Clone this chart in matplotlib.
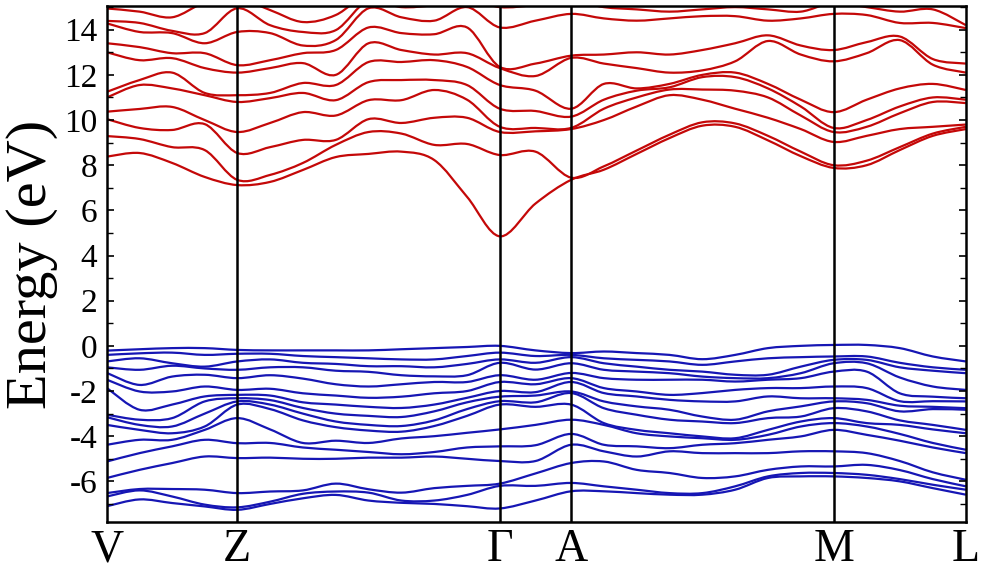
import numpy as np
import matplotlib
matplotlib.use('Agg')
import matplotlib.pyplot as plt
from matplotlib.path import Path
from matplotlib.patches import PathPatch
from matplotlib.ticker import MultipleLocator

plt.rcParams['font.family'] = ['Liberation Serif', 'DejaVu Serif']
plt.rcParams['axes.unicode_minus'] = False

# high symmetry points along the path
k_labels = ['V', 'Z', 'Γ', 'A', 'M', 'L']
k_nodes = [0.0, 1.30, 3.92, 4.63, 7.25, 8.57]
k_steps = [4, 8, 2, 8, 4]   # sample columns per segment

# conduction band energies (eV), one list per sample column, low -> high
cond_cols = [
    [8.38, 9.29, 10.04, 10.37, 11.0, 11.25, 13.0, 13.4, 14.28, 14.39, 14.94, 15.6],
    [8.54, 9.16, 9.65, 10.49, 11.55, 11.77, 12.65, 13.23, 13.9, 14.3, 14.8, 15.6],
    [8.1, 8.8, 9.56, 10.58, 11.4, 12.1, 12.74, 12.96, 13.85, 13.95, 14.55, 15.6],
    [7.48, 8.67, 9.82, 10.0, 11.1, 11.2, 12.3, 12.96, 13.4, 13.85, 15.2, 15.6],
    [7.12, 7.35, 8.54, 9.47, 10.8, 11.1, 12.1, 12.43, 13.9, 14.95, 15.4, 15.7],
    [7.26, 7.57, 8.8, 9.87, 10.97, 11.2, 12.3, 12.65, 13.85, 14.2, 14.87, 15.6],
    [7.79, 8.1, 9.12, 10.35, 11.2, 11.64, 12.52, 12.96, 13.3, 13.9, 14.34, 15.6],
    [8.36, 8.9, 9.12, 10.2, 10.88, 11.55, 12.0, 13.1, 13.54, 13.98, 14.65, 15.6],
    [8.5, 9.47, 10.04, 10.88, 11.68, 12.57, 13.4, 14.1, 14.95, 15.3, 15.6, 15.7],
    [8.6, 9.4, 9.87, 10.88, 11.77, 12.57, 13.1, 13.85, 14.55, 15.0, 15.5, 15.7],
    [8.23, 8.9, 10.1, 11.33, 11.77, 12.65, 12.9, 13.8, 14.4, 15.1, 15.5, 15.7],
    [6.6, 8.94, 10.1, 10.9, 11.55, 12.35, 12.96, 14.1, 15.0, 15.4, 15.6, 15.7],
    [4.85, 8.45, 9.47, 9.7, 10.5, 11.55, 12.3, 12.35, 14.1, 15.0, 15.5, 15.7],
    [6.3, 8.6, 9.5, 9.65, 10.4, 11.3, 11.95, 12.5, 14.4, 15.1, 15.5, 15.7],
    [7.35, 7.45, 9.6, 9.65, 10.15, 10.5, 12.75, 12.85, 14.7, 15.3, 15.5, 15.7],
    [7.8, 7.95, 10.0, 10.5, 10.9, 11.6, 12.5, 12.9, 14.5, 15.0, 15.5, 15.7],
    [8.5, 8.65, 10.6, 11.0, 11.3, 11.4, 12.3, 13.0, 14.4, 14.9, 15.5, 15.7],
    [9.2, 9.35, 11.1, 11.35, 11.45, 11.6, 12.1, 12.9, 14.5, 14.8, 15.5, 15.7],
    [9.75, 9.9, 10.9, 11.35, 11.9, 12.0, 12.2, 13.1, 14.6, 14.9, 15.5, 15.7],
    [9.7, 9.85, 10.5, 11.3, 11.9, 12.1, 12.6, 13.4, 14.6, 15.0, 15.5, 15.7],
    [9.1, 9.3, 10.1, 11.0, 11.4, 11.6, 13.5, 13.75, 14.4, 14.9, 15.3, 15.7],
    [8.4, 8.6, 9.6, 10.2, 10.6, 10.9, 12.9, 13.3, 14.5, 14.8, 15.2, 15.7],
    [7.88, 8.0, 9.03, 9.47, 9.65, 10.35, 12.6, 13.1, 14.7, 15.2, 15.5, 15.7],
    [8.0, 8.2, 9.3, 9.7, 10.0, 10.9, 12.96, 13.45, 14.65, 15.0, 15.4, 15.7],
    [8.67, 8.8, 9.6, 10.3, 10.6, 11.4, 13.54, 13.7, 14.3, 14.8, 15.3, 15.7],
    [9.3, 9.4, 9.7, 10.8, 11.0, 11.6, 12.45, 12.7, 14.3, 14.9, 15.3, 15.7],
    [9.6, 9.7, 9.8, 10.75, 10.9, 11.33, 12.1, 12.5, 14.07, 14.2, 15.3, 15.7],
]

# valence band energies (eV), one list per sample column, low -> high
val_cols = [
    [-7.1, -6.67, -6.52, -5.85, -5.12, -4.38, -3.5, -3.16, -3.05, -1.87, -1.5, -1.2, -0.95, -0.69, -0.4, -0.21],
    [-6.8, -6.4, -6.34, -5.49, -4.75, -4.16, -3.72, -3.5, -3.27, -2.83, -2.02, -1.73, -1.06, -0.55, -0.33, -0.15],
    [-6.96, -6.67, -6.34, -5.19, -4.45, -4.16, -3.87, -3.57, -3.2, -2.6, -2.02, -1.36, -0.88, -0.77, -0.3, -0.1],
    [-7.11, -7.03, -6.37, -4.9, -4.16, -3.72, -3.57, -3.0, -2.46, -2.24, -1.8, -1.28, -1.0, -0.92, -0.4, -0.1],
    [-7.26, -7.15, -6.52, -4.97, -4.31, -3.2, -2.6, -2.46, -2.32, -2.17, -1.95, -1.43, -1.06, -0.69, -0.35, -0.18],
    [-7.0, -6.9, -6.45, -4.95, -4.3, -3.7, -2.8, -2.6, -2.4, -2.2, -1.9, -1.3, -0.95, -0.6, -0.35, -0.2],
    [-6.75, -6.55, -6.4, -5.0, -4.5, -4.3, -3.3, -3.0, -2.75, -2.5, -2.1, -1.45, -0.95, -0.75, -0.45, -0.2],
    [-6.6, -6.45, -6.1, -5.0, -4.6, -4.2, -3.6, -3.35, -3.0, -2.6, -2.2, -1.7, -1.1, -0.8, -0.5, -0.2],
    [-6.85, -6.5, -6.35, -4.95, -4.7, -4.3, -3.75, -3.5, -3.1, -2.7, -2.3, -1.8, -1.15, -0.9, -0.55, -0.2],
    [-6.95, -6.85, -6.5, -4.95, -4.8, -4.1, -3.8, -3.55, -3.15, -2.75, -2.25, -1.7, -1.3, -0.9, -0.6, -0.15],
    [-7.0, -6.85, -6.3, -4.9, -4.7, -4.0, -3.55, -3.3, -2.9, -2.6, -2.1, -1.6, -1.35, -0.95, -0.6, -0.1],
    [-7.1, -6.6, -6.2, -5.0, -4.5, -3.85, -3.1, -2.8, -2.5, -2.3, -2.0, -1.6, -1.3, -0.8, -0.45, -0.05],
    [-7.2, -6.2, -6.1, -5.1, -4.45, -3.7, -2.6, -2.45, -2.25, -2.0, -1.6, -1.3, -0.75, -0.6, -0.3, 0.0],
    [-6.85, -6.2, -5.65, -5.1, -4.4, -3.5, -2.7, -2.5, -2.2, -2.05, -1.7, -1.5, -1.05, -0.75, -0.45, -0.2],
    [-6.44, -6.07, -5.19, -4.38, -3.9, -3.27, -2.6, -2.09, -2.02, -1.6, -1.43, -1.2, -0.77, -0.5, -0.4, -0.32],
    [-6.44, -6.22, -5.12, -4.67, -4.38, -3.5, -3.42, -2.76, -2.46, -2.09, -1.87, -1.43, -1.06, -0.77, -0.55, -0.25],
    [-6.52, -6.37, -5.49, -4.9, -4.45, -3.87, -3.72, -3.05, -2.68, -2.24, -2.02, -1.5, -1.14, -0.92, -0.62, -0.32],
    [-6.59, -6.52, -5.63, -4.67, -4.53, -4.01, -3.87, -3.27, -2.83, -2.39, -2.17, -1.5, -1.21, -1.06, -0.69, -0.4],
    [-6.59, -6.52, -5.85, -4.75, -4.38, -4.09, -4.01, -3.35, -3.13, -2.46, -2.09, -1.5, -1.36, -1.14, -0.84, -0.59],
    [-6.37, -6.22, -5.78, -4.75, -4.31, -4.16, -4.09, -3.42, -3.27, -2.46, -1.95, -1.58, -1.43, -1.28, -0.69, -0.4],
    [-5.85, -5.78, -5.49, -4.75, -4.16, -3.94, -3.72, -3.2, -2.9, -2.24, -1.87, -1.5, -1.43, -1.28, -0.55, -0.1],
    [-5.78, -5.63, -5.34, -4.67, -4.01, -3.57, -3.35, -3.13, -2.68, -2.32, -1.87, -1.43, -1.21, -0.92, -0.5, 0.0],
    [-5.78, -5.63, -5.34, -4.67, -3.72, -3.42, -3.2, -2.76, -2.46, -2.32, -1.8, -1.14, -0.77, -0.62, -0.47, 0.04],
    [-5.85, -5.71, -5.27, -4.75, -3.94, -3.57, -3.42, -2.9, -2.54, -2.39, -1.87, -1.14, -0.77, -0.62, -0.47, 0.04],
    [-6.0, -5.9, -5.5, -5.1, -4.2, -3.9, -3.5, -3.3, -2.9, -2.65, -2.45, -2.1, -1.4, -0.95, -0.75, -0.1],
    [-6.3, -6.15, -5.9, -5.6, -4.5, -4.3, -3.7, -3.5, -2.8, -2.7, -2.45, -2.25, -1.8, -1.1, -0.95, -0.47],
    [-6.59, -6.37, -6.22, -5.93, -4.75, -4.6, -3.87, -3.72, -2.83, -2.76, -2.46, -2.32, -1.95, -1.21, -1.06, -0.69],
]


def k_columns(nodes, steps):
    xs = [nodes[0]]
    for i, n in enumerate(steps):
        xs += list(np.linspace(nodes[i], nodes[i + 1], n + 1)[1:])
    return np.array(xs)


def smooth_path(x, y):
    # catmull-rom through the read points, drawn as cubic bezier
    pts = np.column_stack([x, y])
    n = len(pts)
    verts = [pts[0]]
    codes = [Path.MOVETO]
    for i in range(n - 1):
        p0 = pts[max(i - 1, 0)]
        p1 = pts[i]
        p2 = pts[i + 1]
        p3 = pts[min(i + 2, n - 1)]
        verts += [p1 + (p2 - p0) / 6, p2 - (p3 - p1) / 6, p2]
        codes += [Path.CURVE4] * 3
    return Path(verts, codes)


kx = k_columns(k_nodes, k_steps)
cond = np.array(cond_cols).T
val = np.array(val_cols).T

fig = plt.figure(figsize=(9.85, 5.71), dpi=100)
ax = fig.add_axes([0.1086, 0.0858, 0.872, 0.9037])

for band in cond:
    ax.add_patch(PathPatch(smooth_path(kx, band), fill=False, ec='#c40808', lw=1.6))
for band in val:
    ax.add_patch(PathPatch(smooth_path(kx, band), fill=False, ec='#1616b4', lw=1.6))

for k in k_nodes[1:-1]:
    ax.axvline(k, color='black', lw=1.8)

ax.set_xlim(k_nodes[0], k_nodes[-1])
ax.set_ylim(-7.8, 15.05)
ax.set_xticks(k_nodes)
ax.set_xticklabels(k_labels, fontsize=33)
ax.tick_params(axis='x', length=0, pad=5)
ax.yaxis.set_major_locator(MultipleLocator(2))
ax.yaxis.set_minor_locator(MultipleLocator(1))
ax.tick_params(axis='y', which='both', direction='in', left=True, right=True,
               labelsize=24, pad=7)
ax.tick_params(axis='y', which='major', length=5, width=1.2)
ax.tick_params(axis='y', which='minor', length=4, width=1.0)
for s in ax.spines.values():
    s.set_linewidth(1.8)

ax.set_ylabel('Energy (eV)', fontsize=42)
ax.yaxis.set_label_coords(-0.057, 0.5)

fig.savefig('out.png', dpi=100)
